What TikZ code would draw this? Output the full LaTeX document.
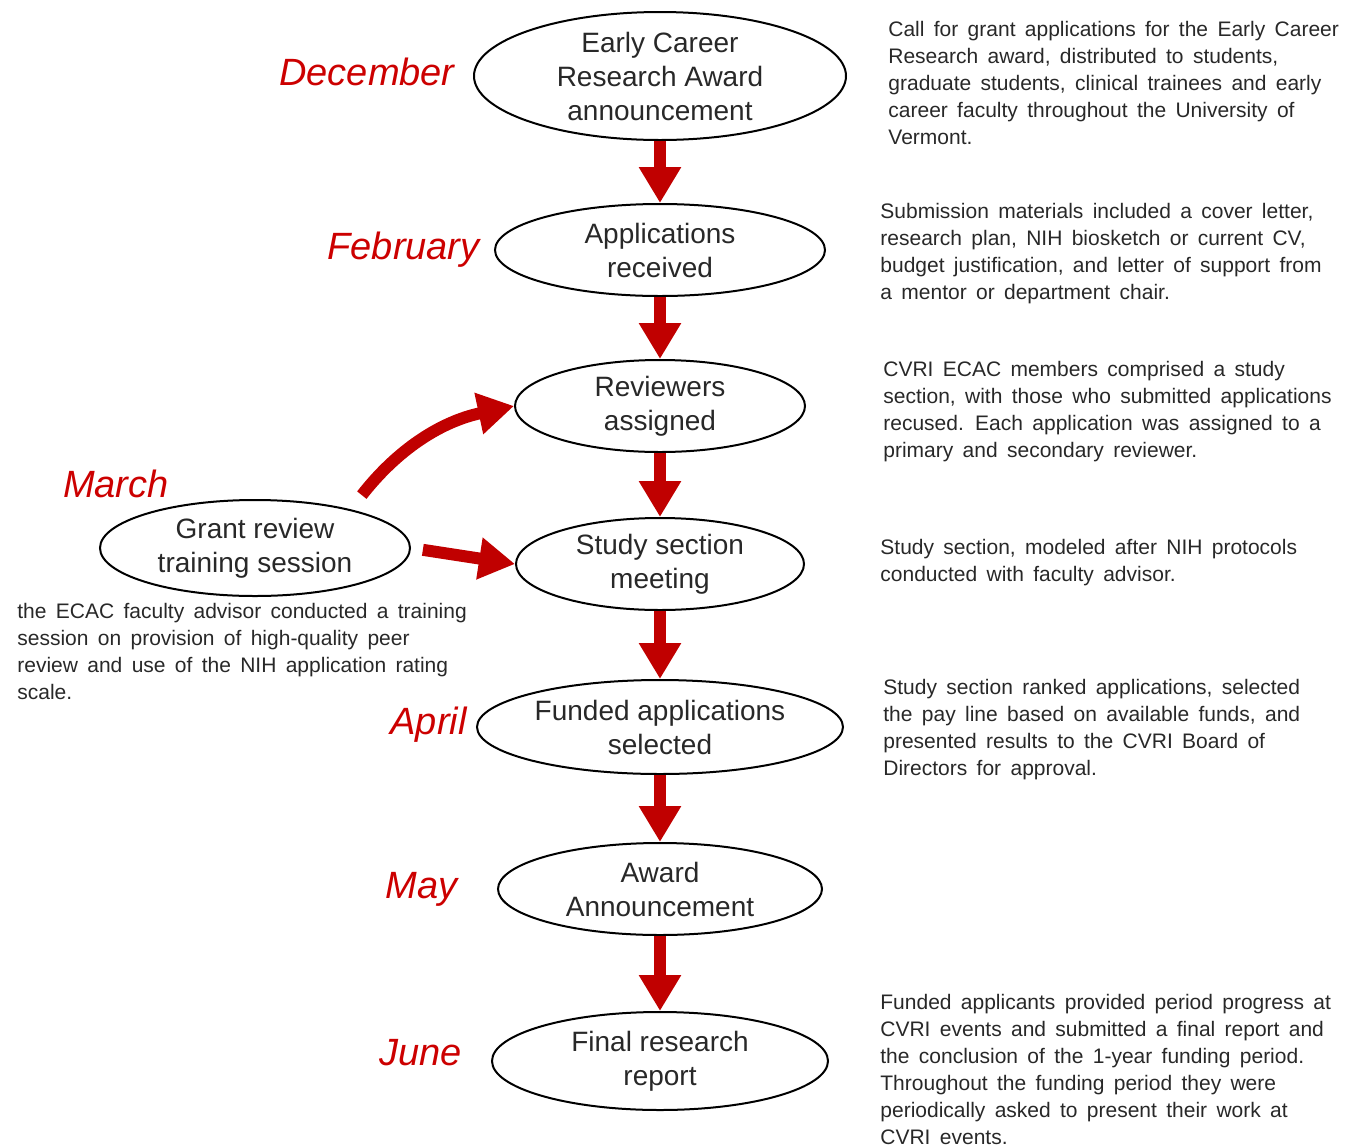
\documentclass[tikz,border=0pt]{standalone}
\usepackage{fontspec}
\setmainfont{Liberation Sans}
\newfontfamily\notefont{Liberation Sans}[WordSpace=1.6]
\usetikzlibrary{arrows.meta,shapes.geometric}
\definecolor{monthred}{RGB}{204,0,0}
\definecolor{flowred}{RGB}{192,0,0}
\definecolor{inkgray}{RGB}{40,40,40}

\begin{document}
\begin{tikzpicture}[x=0.5pt,y=-0.5pt,
    stage/.style={ellipse,draw,line width=1pt,inner sep=0pt,align=center,
      font=\fontsize{14}{17}\selectfont,text=inkgray},
    month/.style={inner sep=0pt,font=\fontsize{19}{22}\selectfont\itshape,text=monthred},
    note/.style={anchor=north west,align=left,inner sep=0pt,
      font=\notefont\fontsize{10.5}{13.5}\selectfont,text=inkgray},
    flow/.style={-{Triangle[width=20pt,length=18pt]},line width=6pt,draw=flowred}]

    \useasboundingbox (0,0) rectangle (1362,1147);

    % stages
    \node[stage,minimum width=186pt,minimum height=64pt] (announce) at (660,76)
      {Early Career\\Research Award\\announcement};
    \node[stage,minimum width=165pt,minimum height=46pt] (received) at (660,250)
      {Applications\\received};
    \node[stage,minimum width=145pt,minimum height=46pt] (assigned) at (660,406)
      {Reviewers\\assigned};
    \node[stage,minimum width=144pt,minimum height=46pt] (meeting) at (660,564)
      {Study section\\meeting};
    \node[stage,minimum width=183pt,minimum height=47pt] (selected) at (660,727)
      {Funded applications\\selected};
    \node[stage,minimum width=162pt,minimum height=46pt] (award) at (660,889)
      {Award\\Announcement};
    \node[stage,minimum width=168pt,minimum height=49pt] (report) at (660,1061)
      {Final research\\report};
    \node[stage,minimum width=155pt,minimum height=48pt] (training) at (255,548)
      {Grant review\\training session};

    % months
    \node[month,anchor=east] (dec) at (455,72) {December};
    \node[month,anchor=east] (feb) at (480,250) {February};
    \node[month] (mar) at (116,484) {March};
    \node[month,anchor=east] (apr) at (467,725) {April};
    \node[month,anchor=east] (may) at (458,889) {May};
    \node[month,anchor=east] (jun) at (462,1053) {June};

    % notes
    \node[note] (n1) at (888,21) {Call for grant applications for the Early Career\\
      Research award, distributed to students,\\
      graduate students, clinical trainees and early\\
      career faculty throughout the University of\\Vermont.};
    \node[note] (n2) at (880,203) {Submission materials included a cover letter,\\
      research plan, NIH biosketch or current CV,\\
      budget justification, and letter of support from\\
      a mentor or department chair.};
    \node[note] (n3) at (883,361) {CVRI ECAC members comprised a study\\
      section, with those who submitted applications\\
      recused. Each application was assigned to a\\
      primary and secondary reviewer.};
    \node[note] (n4) at (880,539) {Study section, modeled after NIH protocols\\
      conducted with faculty advisor.};
    \node[note] (n5) at (883,679) {Study section ranked applications, selected\\
      the pay line based on available funds, and\\
      presented results to the CVRI Board of\\
      Directors for approval.};
    \node[note] (n6) at (880,994) {Funded applicants provided period progress at\\
      CVRI events and submitted a final report and\\
      the conclusion of the 1-year funding period.\\
      Throughout the funding period they were\\
      periodically asked to present their work at\\
      CVRI events.};
    \node[note] (n7) at (17,603) {the ECAC faculty advisor conducted a training\\
      session on provision of high-quality peer\\
      review and use of the NIH application rating\\
      scale.};

    % arrows
    \path (announce.south) edge[flow] (received.north)
    (received.south) edge[flow] (assigned.north)
    (assigned.south) edge[flow] (meeting.north)
    (meeting.south) edge[flow] (selected.north)
    (selected.south) edge[flow] (award.north)
    (award.south) edge[flow] (report.north);

    \draw[flow,shorten <=9pt] (training.22) to[out=52,in=192] (assigned.west);
    \draw[flow,shorten <=6pt] (training.east) -- (meeting.west);
  \end{tikzpicture}
\end{document}
